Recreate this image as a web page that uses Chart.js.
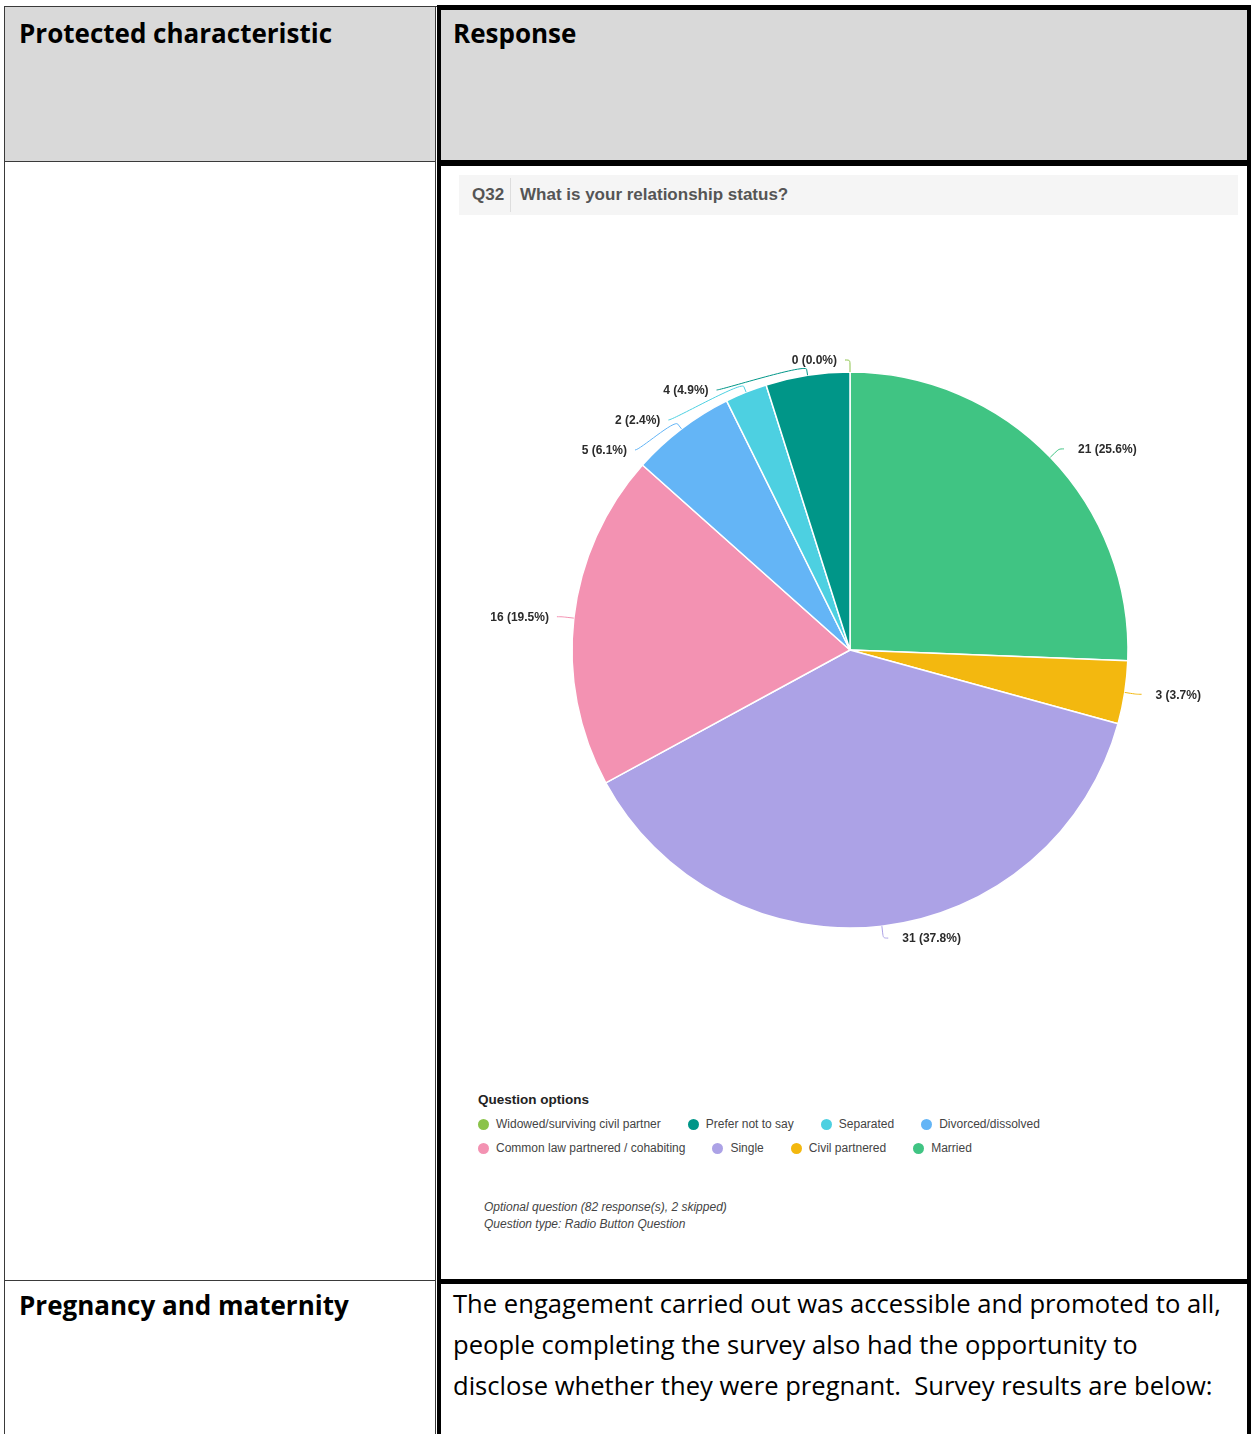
<!DOCTYPE html>
<html>
<head>
<meta charset="utf-8">
<script src="https://cdn.jsdelivr.net/npm/chart.js@4.4.0/dist/chart.umd.min.js"></script>
<style>
  body { margin: 0; width: 1251px; height: 1434px; background: #fff; position: relative; overflow: hidden; font-family: "Open Sans", sans-serif; }
  .abs { position: absolute; }
  .cell-head { background: #d9d9d9; }
  .thin { background: #3a3a3a; }
  .thick { background: #000; }
  .head-text { font-weight: 700; font-size: 26px; line-height: 30px; color: #000; white-space: nowrap; }
  .body-text { font-size: 25.6px; line-height: 41px; color: #000; white-space: nowrap; }
  .q-bar { background: #f5f5f5; font-family: "Liberation Sans", Arial, sans-serif; font-weight: 700; font-size: 17px; color: #555; }
  .legend { font-family: "Liberation Sans", Arial, sans-serif; color: #444; }
  .legend h4 { margin: 0; font-size: 13.5px; font-weight: 700; color: #222; line-height: 20px; }
  .legend .items { display: flex; flex-wrap: wrap; width: 600px; margin-top: 2px; }
  .legend .item { display: flex; align-items: center; height: 24px; margin-right: 27px; font-size: 12px; }
  .legend .dot { width: 11px; height: 11px; border-radius: 50%; margin-right: 7px; }
  .note { font-family: "Liberation Sans", Arial, sans-serif; font-style: italic; font-size: 12px; line-height: 17px; color: #444; }
</style>
</head>
<body>
  <!-- header row backgrounds -->
  <div class="abs cell-head" style="left:4px; top:6px; width:432px; height:156px;"></div>
  <div class="abs cell-head" style="left:441px; top:10px; width:806px; height:150px;"></div>

  <!-- left column thin rules -->
  <div class="abs thin" style="left:4px; top:6px; width:433px; height:1px;"></div>
  <div class="abs thin" style="left:4px; top:6px; width:1px; height:1428px;"></div>
  <div class="abs thin" style="left:435px; top:6px; width:1px; height:1428px;"></div>
  <div class="abs thin" style="left:4px; top:161px; width:432px; height:1px;"></div>
  <div class="abs thin" style="left:4px; top:1280px; width:432px; height:1px;"></div>

  <!-- right column heavy frame -->
  <div class="abs thick" style="left:437px; top:5px; width:814px; height:5px;"></div>
  <div class="abs thick" style="left:437px; top:5px; width:4px; height:1429px;"></div>
  <div class="abs thick" style="left:1247px; top:5px; width:4px; height:1429px;"></div>
  <div class="abs thick" style="left:441px; top:160px; width:810px; height:6px;"></div>
  <div class="abs thick" style="left:441px; top:1279px; width:810px; height:5px;"></div>

  <div class="abs head-text" style="left:19px; top:18px;">Protected characteristic</div>
  <div class="abs head-text" style="left:453px; top:18px;">Response</div>
  <div class="abs head-text" style="left:19px; top:1290px;">Pregnancy and maternity</div>
  <div class="abs body-text" style="left:453px; top:1283px;">
    The engagement carried out was accessible and promoted to all,<br>
    people completing the survey also had the opportunity to<br>
    disclose whether they were pregnant.&nbsp; Survey results are below:
  </div>

  <!-- question bar -->
  <div class="abs q-bar" style="left:459px; top:175px; width:779px; height:40px;">
    <span class="abs" style="left:13px; top:10px;">Q32</span>
    <span class="abs" style="left:51px; top:3px; width:1px; height:34px; background:#ddd;"></span>
    <span class="abs" id="q-title" style="left:61px; top:10px;"></span>
  </div>

  <div class="abs" style="left:460px; top:230px; width:780px; height:840px;">
    <canvas id="pie" width="780" height="840"></canvas>
  </div>

  <div class="abs legend" id="legend" style="left:478px; top:1090px;">
    <h4>Question options</h4>
    <div class="items" id="legend-items"></div>
  </div>

  <div class="abs note" id="note" style="left:484px; top:1199px;"></div>

<script>
const QUESTION = 'What is your relationship status?';
const QUESTION_TYPE = 'Radio Button Question';
const SKIPPED = 2;

// slice order, clockwise from 12 o'clock
const categories = [
  'Married',
  'Civil partnered',
  'Single',
  'Common law partnered / cohabiting',
  'Divorced/dissolved',
  'Separated',
  'Prefer not to say',
  'Widowed/surviving civil partner',
];
const counts = [21, 3, 31, 16, 5, 2, 4, 0];
const sliceColors = ['#40c483', '#f3b80f', '#aca2e6', '#f392b2', '#64b5f6', '#4dd0e1', '#009688', '#8bc34a'];

const total = counts.reduce((sum, n) => sum + n, 0);

document.getElementById('q-title').textContent = QUESTION;
document.getElementById('note').innerHTML =
  `Optional question (${total} response(s), ${SKIPPED} skipped)<br>Question type: ${QUESTION_TYPE}`;

// legend lists the options in reverse slice order
const legendItems = document.getElementById('legend-items');
categories
  .map((label, i) => ({ label, color: sliceColors[i] }))
  .reverse()
  .forEach(({ label, color }) => {
    const item = document.createElement('div');
    item.className = 'item';
    item.innerHTML = `<span class="dot" style="background:${color}"></span><span>${label}</span>`;
    legendItems.appendChild(item);
  });

function formatLabel(value) {
  return `${value} (${(value / total * 100).toFixed(1)}%)`;
}

// outside labels with soft connector lines, stacked so they never overlap
const calloutLabels = {
  id: 'calloutLabels',
  afterDatasetsDraw(chart) {
    const { ctx } = chart;
    const arcs = chart.getDatasetMeta(0).data;

    const items = arcs.map((arc, i) => {
      const { x, y, startAngle, endAngle, outerRadius } =
        arc.getProps(['x', 'y', 'startAngle', 'endAngle', 'outerRadius'], true);
      const mid = (startAngle + endAngle) / 2;
      const deg = (mid + Math.PI / 2) * 180 / Math.PI;
      const R = outerRadius + 12;
      return { i, cx: x, cy: y, r: outerRadius, mid, R, left: deg > 180, ly: y + Math.sin(mid) * R };
    });

    [true, false].forEach((side) => {
      let prev = -Infinity;
      items
        .filter((it) => it.left === side)
        .sort((a, b) => a.ly - b.ly)
        .forEach((it) => {
          it.ly = Math.max(it.ly, prev + 30);
          prev = it.ly;
        });
    });

    ctx.save();
    ctx.font = 'bold 12px "Liberation Sans", Arial, sans-serif';
    ctx.textBaseline = 'middle';
    items.forEach((it) => {
      const dy = it.ly - it.cy;
      const dx = Math.sqrt(Math.max(it.R * it.R - dy * dy, 0));
      const lx = it.left ? it.cx - dx : it.cx + dx;
      const startX = it.left ? lx - 5 : lx + 5;
      const tx = it.cx + Math.cos(it.mid) * it.r;
      const ty = it.cy + Math.sin(it.mid) * it.r;
      const bx = it.cx + Math.cos(it.mid) * (it.r + 6);
      const by = it.cy + Math.sin(it.mid) * (it.r + 6);

      ctx.strokeStyle = sliceColors[it.i];
      ctx.lineWidth = 1;
      ctx.beginPath();
      ctx.moveTo(startX, it.ly);
      ctx.bezierCurveTo(lx, it.ly, 2 * bx - tx, 2 * by - ty, bx, by);
      ctx.lineTo(tx, ty);
      ctx.stroke();

      ctx.fillStyle = '#2b2b2b';
      ctx.textAlign = it.left ? 'right' : 'left';
      ctx.fillText(formatLabel(counts[it.i]), it.left ? startX - 8 : startX + 14, it.ly + 1);
    });
    ctx.restore();
  },
};

new Chart(document.getElementById('pie'), {
  type: 'pie',
  data: {
    labels: categories,
    datasets: [{
      data: counts,
      backgroundColor: sliceColors,
      borderColor: '#ffffff',
      borderWidth: 1.5,
    }],
  },
  options: {
    responsive: false,
    animation: false,
    events: [],
    radius: 278,
    layout: { padding: 0 },
    plugins: {
      legend: { display: false },
      tooltip: { enabled: false },
    },
  },
  plugins: [calloutLabels],
});
</script>
</body>
</html>
